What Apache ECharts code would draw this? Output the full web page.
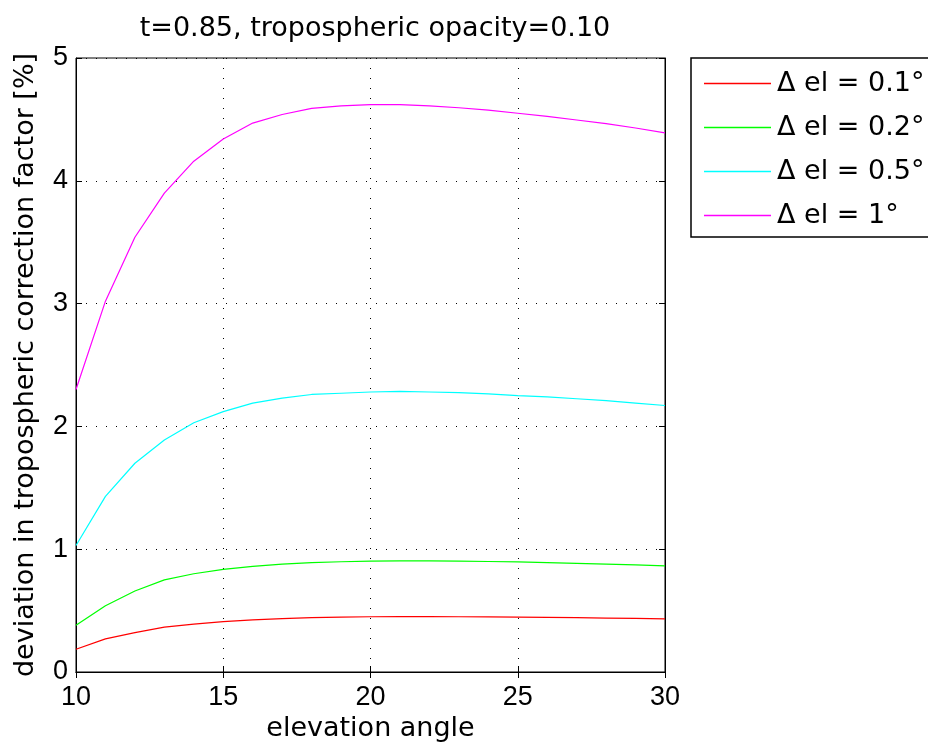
<!DOCTYPE html>
<html><head><meta charset="utf-8">
<script src="https://cdn.jsdelivr.net/npm/echarts@6/dist/echarts.min.js"></script>
<style>html,body{margin:0;padding:0;background:#fff}#c{width:928px;height:751px}</style>
</head><body><div id="c"></div>
<script>
const elevation = [10,11,12,13,14,15,16,17,18,19,20,21,22,23,24,25,26,27,28,29,30];
const del01 = [0.185,0.27,0.32,0.365,0.39,0.41,0.425,0.435,0.442,0.447,0.45,0.451,0.451,0.45,0.449,0.447,0.445,0.442,0.439,0.436,0.432];
const del02 = [0.38,0.54,0.66,0.75,0.80,0.835,0.86,0.878,0.89,0.898,0.903,0.905,0.905,0.903,0.9,0.896,0.891,0.885,0.879,0.872,0.865];
const del05 = [1.03,1.43,1.70,1.89,2.03,2.12,2.19,2.23,2.26,2.27,2.28,2.285,2.28,2.275,2.265,2.25,2.24,2.225,2.21,2.19,2.17];
const del1 = [2.30,3.02,3.54,3.90,4.16,4.34,4.47,4.54,4.59,4.61,4.62,4.62,4.61,4.595,4.575,4.55,4.525,4.495,4.465,4.43,4.39];
const seriesNames = ['Δ el = 0.1°','Δ el = 0.2°','Δ el = 0.5°','Δ el = 1°'];
const seriesColors = ['#ff0000','#00ff00','#00ffff','#ff00ff'];
const seriesData = [del01, del02, del05, del1];

const labelFont = '"DejaVu Sans", sans-serif';
const tickFont = '"Liberation Sans", Arial, sans-serif';
const chart = echarts.init(document.getElementById('c'));
const grid = {left:76, right:263, top:58, bottom:79, show:true, borderColor:'#000', borderWidth:1, backgroundColor:'#fff'};
const split = {show:true, lineStyle:{color:'#000', type:[1,9], width:1}};
const ticks = {show:true, inside:true, length:6, lineStyle:{color:'#000'}};
chart.setOption({
  animation:false,
  textStyle:{fontFamily:tickFont},
  title:{text:'t=0.85, tropospheric opacity=0.10', left:370, top:10, textAlign:'center',
    textStyle:{fontSize:27, fontWeight:'normal', color:'#000', fontFamily:labelFont}},
  legend:{orient:'vertical', left:691, top:58, data:seriesNames, icon:'rect', itemWidth:67, itemHeight:1.5,
    itemGap:17, padding:[12,12,8,13], borderColor:'#000', borderWidth:1.5, backgroundColor:'#fff',
    textStyle:{fontSize:27, color:'#000', fontFamily:labelFont, padding:[0,0,0,1]}},
  grid:grid,
  xAxis:[{type:'value', min:10, max:30, interval:5, position:'bottom',
    name:'elevation angle', nameLocation:'middle', nameGap:41,
    nameTextStyle:{fontSize:27, color:'#000', fontFamily:labelFont},
    axisLine:{show:true, lineStyle:{color:'#000'}}, axisTick:ticks, splitLine:split,
    axisLabel:{fontSize:27, color:'#000', margin:12, fontFamily:tickFont}},
    {type:'value', min:10, max:30, interval:5, position:'top', axisLine:{show:true, lineStyle:{color:'#000'}},
    axisTick:ticks, axisLabel:{show:false}, splitLine:{show:false}}],
  yAxis:[{type:'value', min:0, max:5, interval:1, position:'left',
    name:'deviation in tropospheric correction factor [%]', nameLocation:'middle', nameGap:37,
    nameTextStyle:{fontSize:27, color:'#000', fontFamily:labelFont},
    axisLine:{show:true, lineStyle:{color:'#000'}}, axisTick:ticks, splitLine:split,
    axisLabel:{fontSize:27, color:'#000', margin:8, fontFamily:tickFont}},
    {type:'value', min:0, max:5, interval:1, position:'right', axisLine:{show:true, lineStyle:{color:'#000'}},
    axisTick:ticks, axisLabel:{show:false}, splitLine:{show:false}}],
  series: seriesNames.map((n,i)=>({
    name:n, type:'line', xAxisIndex:0, yAxisIndex:0, showSymbol:false, symbol:'none',
    lineStyle:{color:seriesColors[i], width:1.2}, itemStyle:{color:seriesColors[i]},
    data: elevation.map((x,k)=>[x, seriesData[i][k]])
  }))
});
</script></body></html>
